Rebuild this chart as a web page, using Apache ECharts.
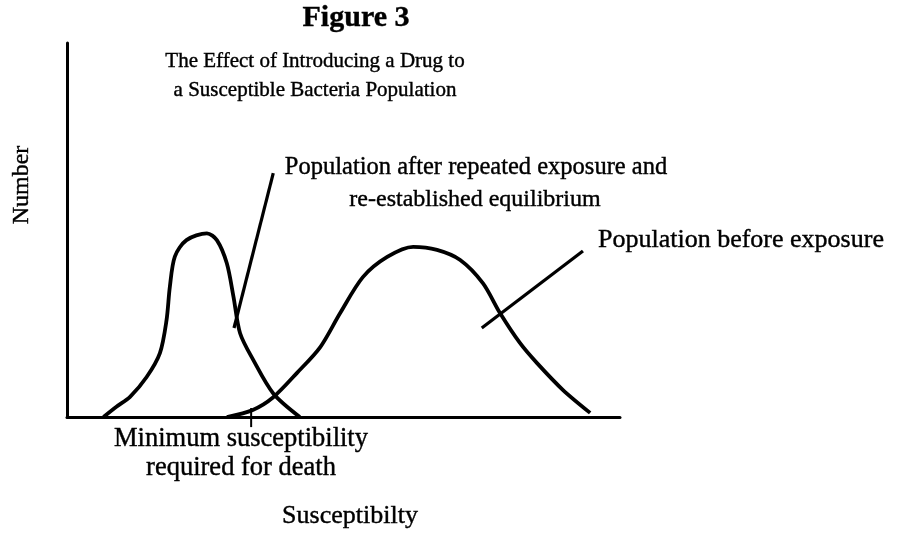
<!DOCTYPE html>
<html>
<head>
<meta charset="utf-8">
<script src="https://cdn.jsdelivr.net/npm/echarts@6/dist/echarts.min.js"></script>
<style>
  html, body { margin: 0; padding: 0; background: #fff; }
  #chart { width: 902px; height: 533px; }
</style>
</head>
<body>
<div id="chart"></div>
<script>
// susceptibility (0-100) vs number (0-100)
const afterExposure = [
  [6.6, 0], [9.0, 2.8], [11.4, 5.4], [14.4, 10.7], [16.8, 17.1],
  [18.0, 25.9], [18.6, 34.8], [19.5, 42.9], [21.6, 47.3], [25.3, 49.1],
  [27.1, 47.3], [28.9, 41.1], [30.1, 32.2], [31.3, 22.4], [33.7, 15.2],
  [37.3, 6.3], [42.1, 0]
];
const beforeExposure = [
  [28.9, 0], [33.6, 1.9], [37.3, 5.3], [41.6, 11.8], [45.8, 18.7],
  [49.4, 27.8], [53.5, 37.4], [57.9, 42.8], [62.6, 45.5], [66.9, 44.7],
  [71.1, 42.0], [75.2, 35.8], [78.3, 27.8], [81.9, 19.8], [85.0, 14.4],
  [89.7, 7.2], [94.6, 1.1]
];
const leaderAfter = [[30.2, 23.8], [37.3, 65.2]];
const leaderBefore = [[75.0, 23.8], [93.3, 44.4]];
const deathTick = [[33.3, 2.4], [33.3, -2.7]];

const font = "'Liberation Serif', 'Times New Roman', serif";
const chart = echarts.init(document.getElementById("chart"));

function curve(data, smooth, width) {
  return {
    type: "line",
    data: data,
    smooth: smooth,
    symbol: "none",
    clip: false,
    lineStyle: { color: "#000", width: width },
    silent: true
  };
}

function label(text, x, y, size, opts) {
  return Object.assign({
    type: "text", x: x, y: y,
    style: {
      text: text, font: size + "px " + font, fill: "#000",
      stroke: "#000", lineWidth: 0.4,
      align: "center", verticalAlign: "middle"
    }
  }, opts || {});
}

const before = label("Population before exposure", 598, 240, 26);
before.style.align = "left";
const title = label("Figure 3", 356, 18, 30);
title.style.font = "bold 30px " + font;

chart.setOption({
  animation: false,
  backgroundColor: "#fff",
  grid: { left: 67, right: 282, top: 43, bottom: 116 },
  xAxis: {
    type: "value", min: 0, max: 100,
    axisLine: { show: true, lineStyle: { color: "#000", width: 3 } },
    axisTick: { show: false }, axisLabel: { show: false }, splitLine: { show: false }
  },
  yAxis: {
    type: "value", min: 0, max: 100,
    axisLine: { show: true, lineStyle: { color: "#000", width: 3 } },
    axisTick: { show: false }, axisLabel: { show: false }, splitLine: { show: false }
  },
  series: [
    curve(afterExposure, 0.3, 3.8),
    curve(beforeExposure, 0.3, 3.8),
    curve(leaderAfter, false, 3.2),
    curve(leaderBefore, false, 3.2),
    curve(deathTick, false, 2)
  ],
  graphic: [
    title,
    label("The Effect of Introducing a Drug to", 315, 61, 21),
    label("a Susceptible Bacteria Population", 315, 90, 21),
    label("Number", 22, 185, 24, { rotation: Math.PI / 2 }),
    label("Population after repeated exposure and", 476, 168, 24.5),
    label("re-established equilibrium", 475, 200, 24),
    before,
    label("Minimum susceptibility", 241, 439, 26.5),
    label("required for death", 241, 468, 26.5),
    label("Susceptibilty", 350, 516, 26)
  ]
});
</script>
</body>
</html>
